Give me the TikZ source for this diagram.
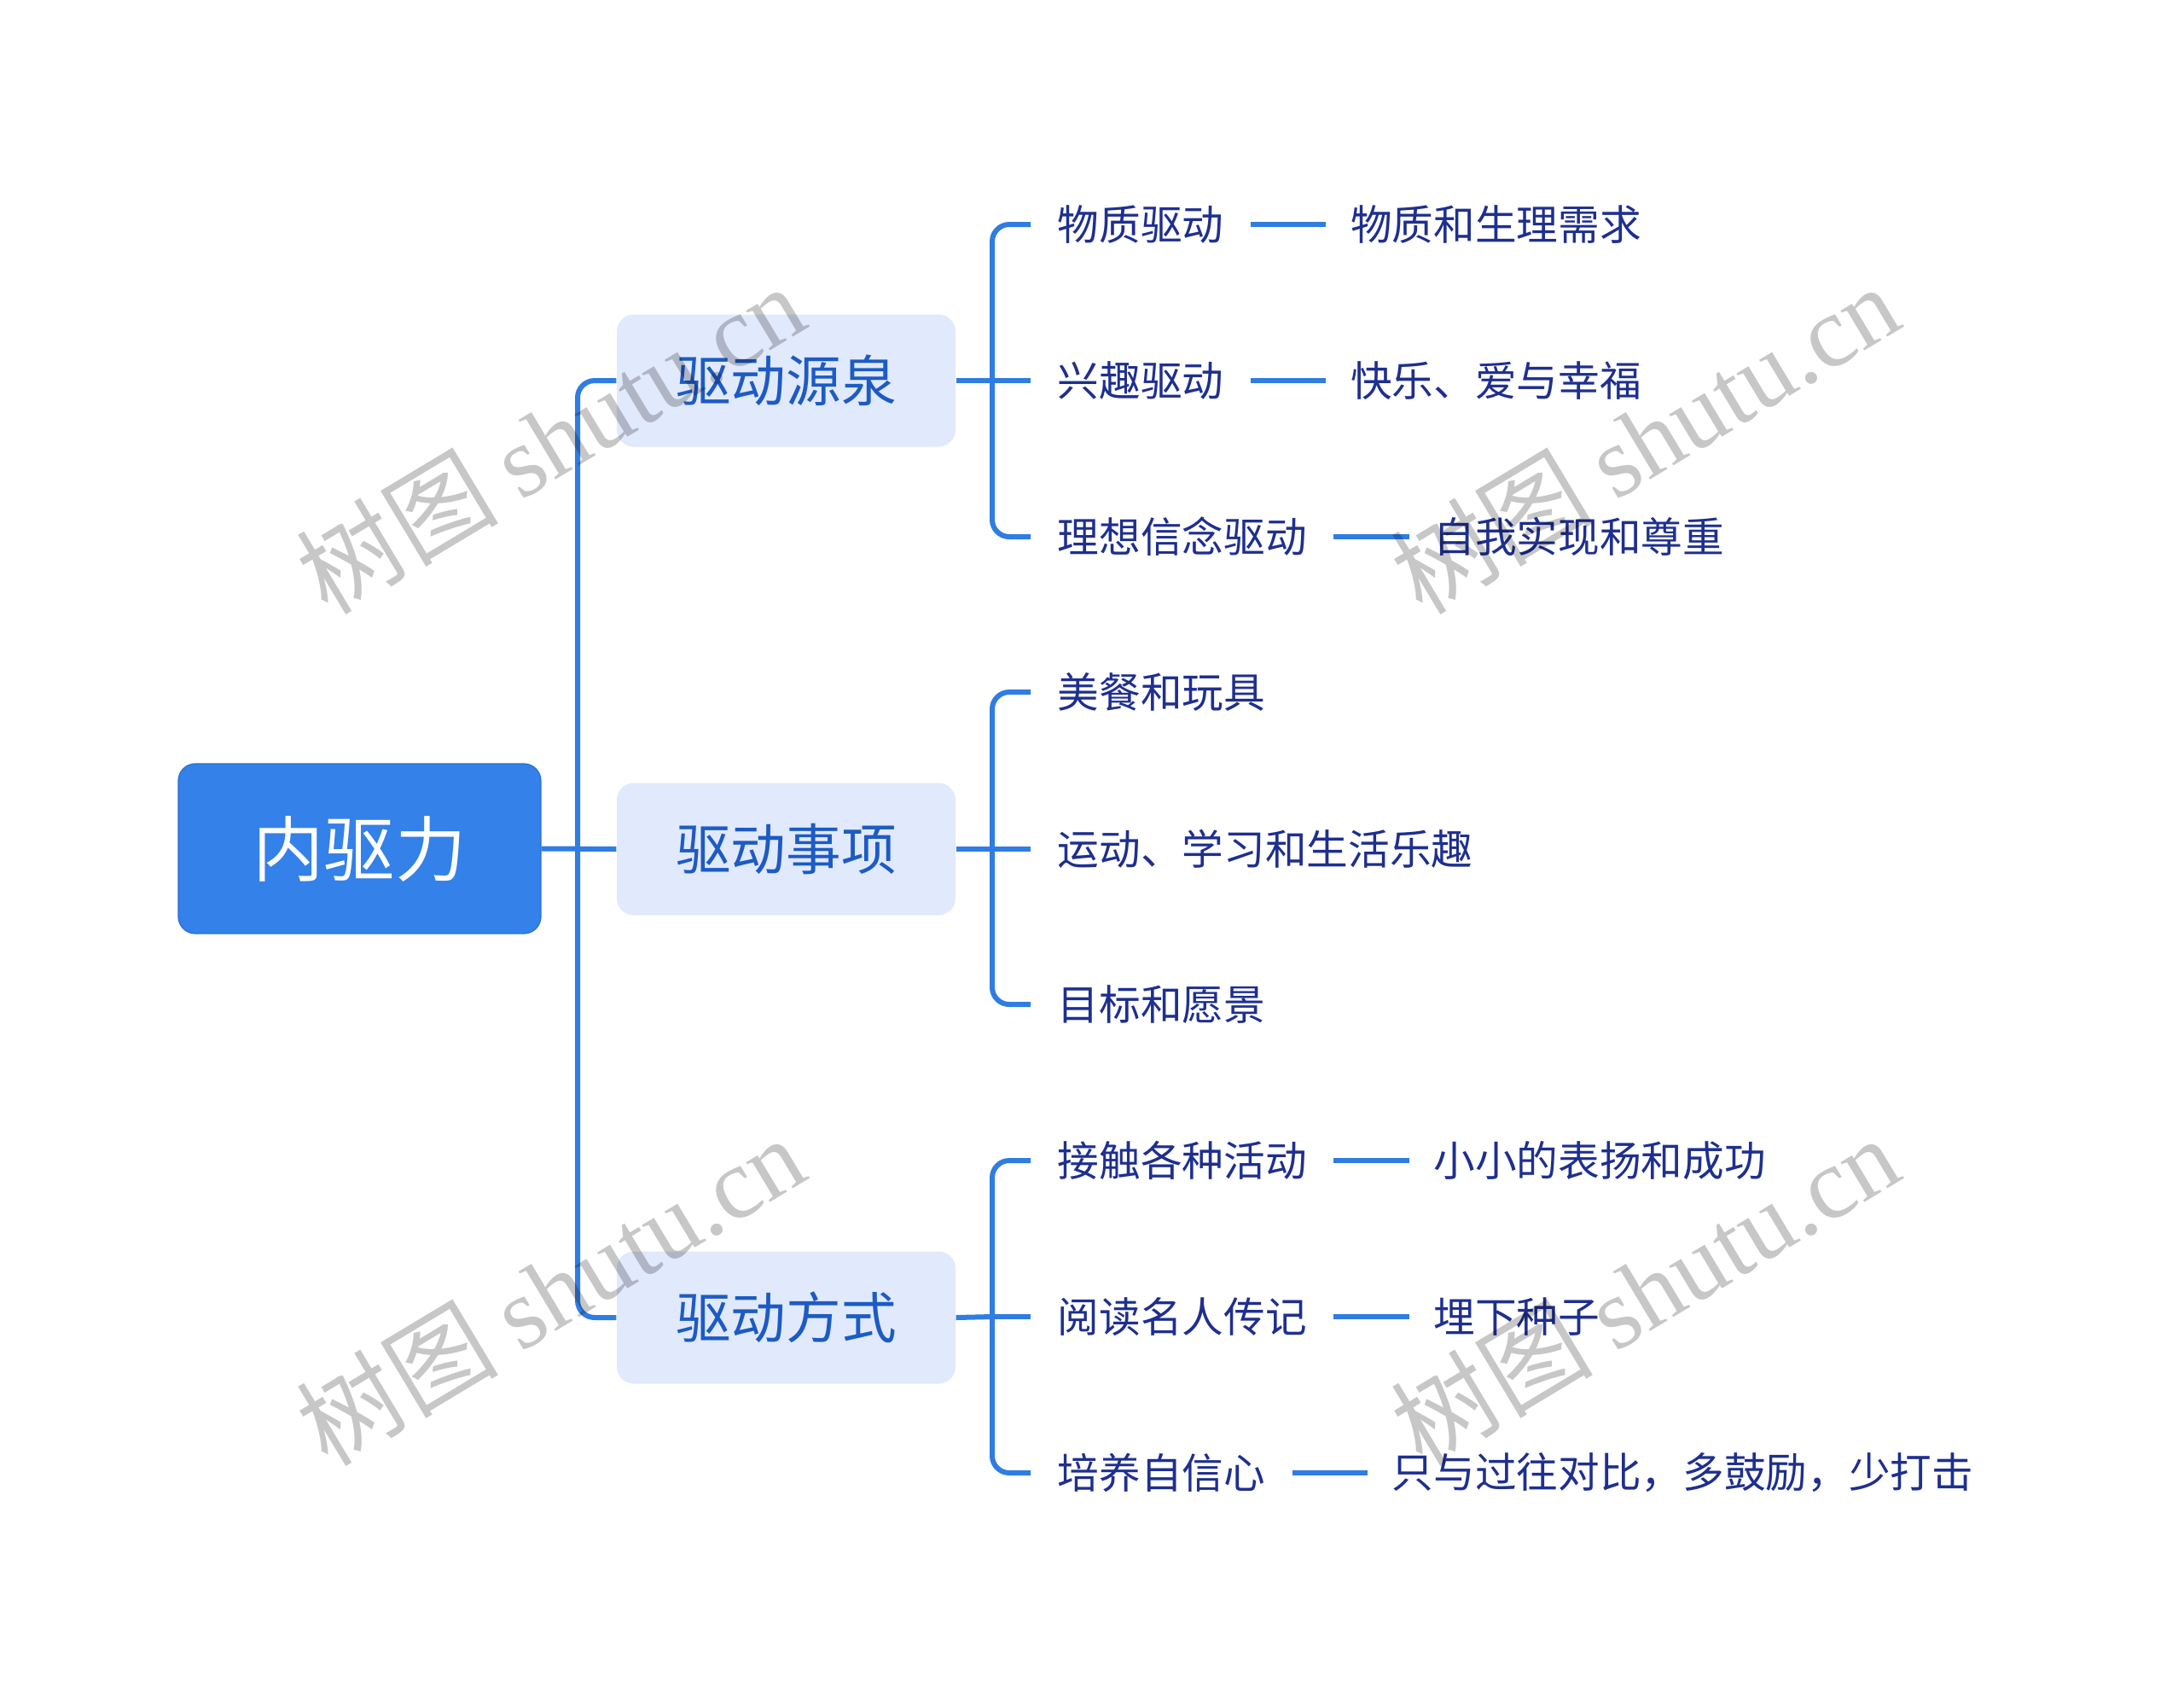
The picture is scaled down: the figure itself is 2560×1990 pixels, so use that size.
\documentclass[tikz,border=0pt]{standalone}
\usepackage{fontspec}
\setmainfont{Noto Sans CJK SC}
\newfontfamily\wmlatin{Liberation Serif}
\usetikzlibrary{positioning}
\definecolor{rootblue}{HTML}{3381E9}
\definecolor{rootedge}{HTML}{2B70D6}
\definecolor{lonefill}{HTML}{E1E9FC}
\definecolor{lonetext}{HTML}{1D5BC4}
\definecolor{leaftext}{HTML}{1E2F8F}
\definecolor{linkblue}{HTML}{2F7DE2}
\tikzset{
  rootbox/.style={draw=rootedge, line width=0.4pt, fill=rootblue, rounded corners=6pt,
    minimum width=127.5pt, minimum height=59.7pt, inner sep=0pt, text=white,
    font=\fontsize{25pt}{30pt}\selectfont},
  lonebox/.style={fill=lonefill, rounded corners=6pt, minimum width=119.1pt,
    minimum height=46.5pt, inner sep=0pt, text=lonetext,
    font=\fontsize{19.4pt}{23pt}\selectfont},
  leafbox/.style={inner xsep=9.3pt, inner ysep=2pt, text=leaftext,
    font=\fontsize{14.6pt}{18pt}\selectfont},
  subbox/.style={leafbox, inner xsep=8.4pt},
  link/.style={draw=linkblue, line width=1.8pt},
  elbow/.style={link, rounded corners=6pt},
  wmark/.style={rotate=31, text=black, text opacity=0.22, inner sep=0pt,
    font=\fontsize{35.5pt}{40pt}\selectfont}
}
\begin{document}
\begin{tikzpicture}[x=0.3pt,y=-0.3pt]
\useasboundingbox (0,0) rectangle (2560,1990);
\fill[white] (0,0) rectangle (2560,1990);

% root and first level
\node[rootbox] (root) at (421.5,994.5) {内驱力};
\node[lonebox] (s1) at (921.5,446) {驱动源泉};
\node[lonebox] (s2) at (921.5,995) {驱动事项};
\node[lonebox] (s3) at (921.5,1544) {驱动方式};

% leaves group 1
\node[leafbox, anchor=west] (a1) at (1208,263) {物质驱动};
\node[leafbox, anchor=west] (a2) at (1208,446) {兴趣驱动};
\node[leafbox, anchor=west] (a3) at (1208,629) {理想信念驱动};
\node[subbox, right=26.5pt of a1] (a1s) {物质和生理需求};
\node[subbox, right=26.5pt of a2] (a2s) {快乐、爱与幸福};
\node[subbox, right=26.5pt of a3] (a3s) {自我实现和尊重};

% leaves group 2
\node[leafbox, anchor=west] (b1) at (1208,811) {美餐和玩具};
\node[leafbox, anchor=west] (b2) at (1208,995) {运动、学习和生活乐趣};
\node[leafbox, anchor=west] (b3) at (1208,1177) {目标和愿景};

% leaves group 3
\node[leafbox, anchor=west] (c1) at (1208,1360) {接触各种活动};
\node[leafbox, anchor=west] (c2) at (1208,1543) {阅读名人传记};
\node[leafbox, anchor=west] (c3) at (1208,1726) {培养自信心};
\node[subbox, right=26.5pt of c1] (c1s) {小小的表扬和成功};
\node[subbox, right=26.5pt of c2] (c2s) {埋下种子};
\node[subbox, right=26.5pt of c3] (c3s) {只与过往对比，多鼓励，少打击};

% junction coordinates
\coordinate (t) at (677,995);
\coordinate (ja) at (1163,446);
\coordinate (jb) at (1163,995);
\coordinate (jc) at (1163,1543);

% trunk
\draw[link] (root.east) -- (s2.west);
\draw[elbow] (s1.west) -| (t) |- (s3.west);

% group brackets
\draw[link] (s1.east) -- (ja);
\draw[elbow] (a1.west) -| (ja) |- (a3.west);
\draw[link] (ja) -- (a2.west);

\draw[link] (s2.east) -- (jb);
\draw[elbow] (b1.west) -| (jb) |- (b3.west);
\draw[link] (jb) -- (b2.west);

\draw[link] (s3.east) -- (jc);
\draw[elbow] (c1.west) -| (jc) |- (c3.west);
\draw[link] (jc) -- (c2.west);

% leaf to sub-leaf
\draw[link] (a1.east) -- (a1s.west);
\draw[link] (a2.east) -- (a2s.west);
\draw[link] (a3.east) -- (a3s.west);
\draw[link] (c1.east) -- (c1s.west);
\draw[link] (c2.east) -- (c2s.west);
\draw[link] (c3.east) -- (c3s.west);

% watermarks
\node[wmark] (w1) at (645,514) {树图 {\wmlatin shutu.cn}};
\node[wmark] (w2) at (1928,514) {树图 {\wmlatin shutu.cn}};
\node[wmark] (w3) at (645,1512) {树图 {\wmlatin shutu.cn}};
\node[wmark] (w4) at (1928,1512) {树图 {\wmlatin shutu.cn}};
\end{tikzpicture}
\end{document}
